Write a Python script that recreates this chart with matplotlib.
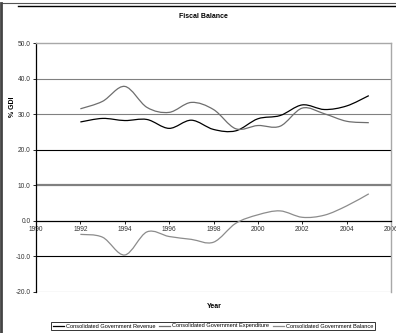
import matplotlib
matplotlib.use('Agg')
import matplotlib.pyplot as plt
from matplotlib.path import Path
from matplotlib.patches import PathPatch
from matplotlib.lines import Line2D

plt.rcParams['font.family'] = ['Liberation Sans', 'DejaVu Sans']

years = [1992, 1993, 1994, 1995, 1996, 1997, 1998, 1999, 2000, 2001, 2002, 2003, 2004, 2005]
revenue = [27.8, 28.8, 28.2, 28.5, 26.0, 28.3, 25.7, 25.3, 28.7, 29.6, 32.6, 31.3, 32.3, 35.2]
expenditure = [31.5, 33.6, 37.8, 31.9, 30.5, 33.3, 31.3, 25.9, 26.8, 26.6, 31.7, 30.1, 28.0, 27.6]
balance = [-3.8, -4.6, -9.6, -3.1, -4.4, -5.2, -6.0, -0.7, 1.7, 2.8, 1.0, 1.6, 4.2, 7.6]

series_names = ['Consolidated Government Revenue',
                'Consolidated Government Expenditure',
                'Consolidated Government Balance']
series_colors = ['#000000', '#6e6e6e', '#8c8c8c']

year_ticks = [1990, 1992, 1994, 1996, 1998, 2000, 2002, 2004, 2006]
value_ticks = [-20, -10, 0, 10, 20, 30, 40, 50]


def smooth_path(xs, ys):
    # catmull-rom style bezier, like excel's smoothed lines
    n = len(xs)
    verts = [(xs[0], ys[0])]
    codes = [Path.MOVETO]
    for i in range(n - 1):
        x0, y0 = (xs[i - 1], ys[i - 1]) if i > 0 else (xs[i], ys[i])
        x1, y1 = xs[i], ys[i]
        x2, y2 = xs[i + 1], ys[i + 1]
        x3, y3 = (xs[i + 2], ys[i + 2]) if i + 2 < n else (x2, y2)
        verts += [(x1 + (x2 - x0) / 6, y1 + (y2 - y0) / 6),
                  (x2 - (x3 - x1) / 6, y2 - (y3 - y1) / 6),
                  (x2, y2)]
        codes += [Path.CURVE4] * 3
    return Path(verts, codes)


fig = plt.figure(figsize=(3.96, 3.33), dpi=100)
ax = fig.add_axes([36 / 396, 1 - 292 / 333, 355 / 396, 249 / 333])

ax.set_xlim(1990, 2006)
ax.set_ylim(-20, 50)

# gridlines
for v, c, w in [(40, '#808080', 0.8), (30, '#808080', 0.8), (20, '#000000', 0.8),
                (10, '#808080', 1.6), (-10, '#000000', 0.8), (-20, '#808080', 0.8)]:
    ax.axhline(v, color=c, lw=w, zorder=1)

for vals, col in zip([revenue, expenditure, balance], series_colors):
    ax.add_patch(PathPatch(smooth_path(years, vals), facecolor='none',
                           edgecolor=col, lw=0.9, zorder=3))

ax.spines['left'].set_color('black')
ax.spines['left'].set_linewidth(0.9)
ax.spines['bottom'].set_position(('data', 0))
ax.spines['bottom'].set_color('black')
ax.spines['bottom'].set_linewidth(0.9)
for s in ['top', 'right']:
    ax.spines[s].set_color('#a8a8a8')
    ax.spines[s].set_linewidth(1.0)

ax.set_xticks(year_ticks)
ax.set_xticklabels([str(y) for y in year_ticks])
ax.set_yticks(value_ticks)
ax.set_yticklabels(['%.1f' % v for v in value_ticks])
ax.tick_params(axis='both', labelsize=4.8, length=2.5, width=0.6, pad=1.5,
               colors='black', labelcolor='#333333')

fig.text(203 / 396, 1 - 17 / 333, 'Fiscal Balance', ha='center', va='center',
         fontsize=5, fontweight='bold')
fig.text(214 / 396, 1 - 306 / 333, 'Year', ha='center', va='center',
         fontsize=5, fontweight='bold')
fig.text(12 / 396, 1 - 107 / 333, '% GDI', rotation=90, ha='center', va='center',
         fontsize=5, fontweight='bold')

handles = [Line2D([], [], color=c, lw=0.9) for c in series_colors]
leg = fig.legend(handles, series_names, loc='center',
                 bbox_to_anchor=(213 / 396, 1 - 326 / 333),
                 ncol=3, fontsize=4.1, frameon=True, fancybox=False, edgecolor='black',
                 handlelength=2.0, handletextpad=0.3, columnspacing=0.6, borderpad=0.3,
                 borderaxespad=0)
leg.get_frame().set_linewidth(0.7)

# page border decorations
fig.add_artist(Line2D([2 / 396, 1], [1 - 3.2 / 333] * 2, color='#555555', lw=0.8))
fig.add_artist(Line2D([18 / 396, 1], [1 - 5.5 / 333] * 2, color='black', lw=1.0))
fig.add_artist(Line2D([1.2 / 396] * 2, [0, 1 - 3 / 333], color='#444444', lw=2.0))

fig.savefig('out.png', dpi=100)
